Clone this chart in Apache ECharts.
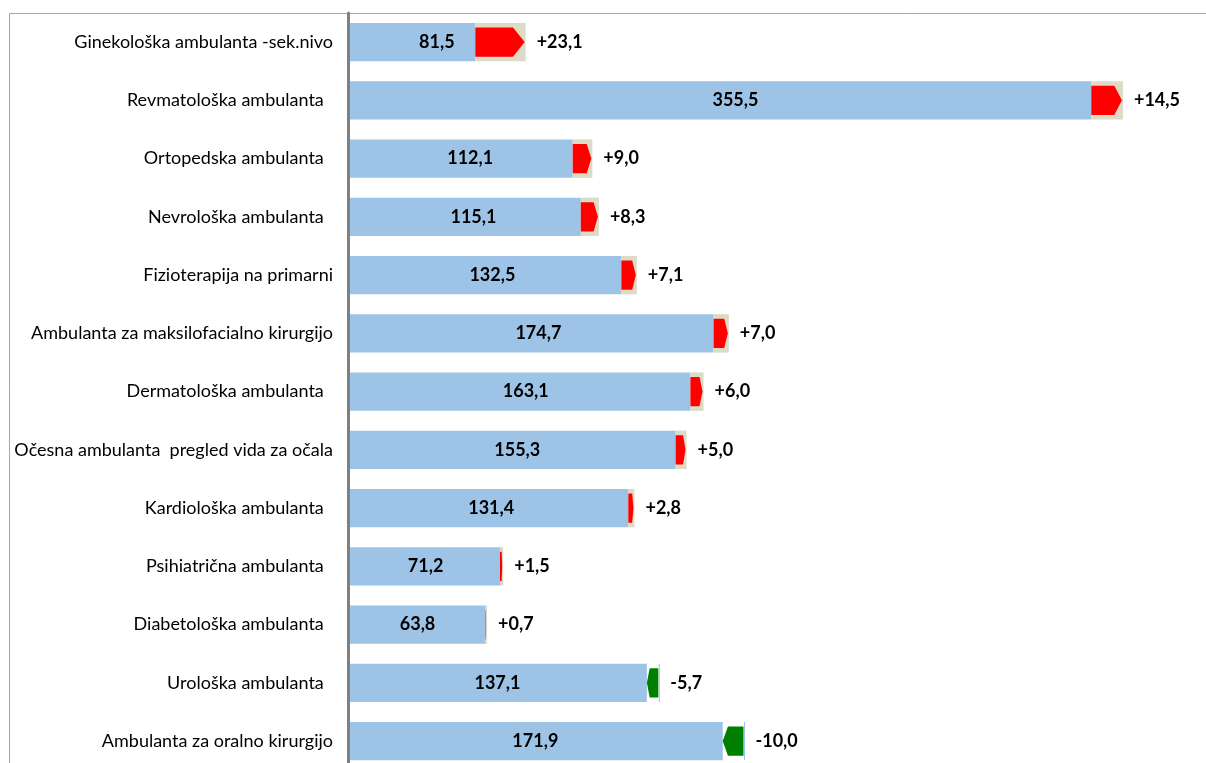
<!DOCTYPE html>
<html>
<head>
<meta charset="utf-8">
<script src="https://cdn.jsdelivr.net/npm/echarts@6/dist/echarts.min.js"></script>
<style>
html,body{margin:0;padding:0;background:#fff;}
#chart{width:1206px;height:763px;}
</style>
</head>
<body>
<div id="chart"></div>
<script>
const categories = [
  "Ginekološka ambulanta -sek.nivo",
  "Revmatološka ambulanta  ",
  "Ortopedska ambulanta  ",
  "Nevrološka ambulanta  ",
  "Fizioterapija na primarni",
  "Ambulanta za maksilofacialno kirurgijo",
  "Dermatološka ambulanta  ",
  "Očesna ambulanta  pregled vida za očala",
  "Kardiološka ambulanta  ",
  "Psihiatrična ambulanta  ",
  "Diabetološka ambulanta  ",
  "Urološka ambulanta  ",
  "Ambulanta za oralno kirurgijo"
];
const currentValues = [81.5, 355.5, 112.1, 115.1, 132.5, 174.7, 163.1, 155.3, 131.4, 71.2, 63.8, 137.1, 171.9];
const changeValues = [23.1, 14.5, 9.0, 8.3, 7.1, 7.0, 6.0, 5.0, 2.8, 1.5, 0.7, -5.7, -10.0];

const FONT = "Lato, 'Open Sans', sans-serif";
const fmt = v => v.toFixed(1).replace('.', ',');
const fmtDelta = v => (v >= 0 ? '+' : '') + v.toFixed(1).replace('.', ',');

const rowIndex = categories.map((c, i) => i);
const data = categories.map((c, i) => [i, currentValues[i], changeValues[i]]);

function renderItem(params, api) {
  const cat = api.value(0);
  const cur = api.value(1);
  const ch = api.value(2);
  const prev = cur - ch;
  const bandH = Math.abs(api.size([0, 1])[1]);
  const barH = bandH * 0.66;
  const p0 = api.coord([0, cat]);
  const pc = api.coord([cur, cat]);
  const pp = api.coord([prev, cat]);
  const yc = p0[1];
  const top = yc - barH / 2;
  const x0 = p0[0] + 1.5;
  const children = [];
  const blueEnd = Math.min(pc[0], pp[0]);
  children.push({
    type: 'rect',
    shape: { x: x0, y: top, width: blueEnd - x0, height: barH },
    style: { fill: '#9DC3E6' }
  });
  const inset = barH * 0.12;
  const ah = barH - 2 * inset;
  if (ch > 0) {
    const xa = pp[0], xb = pc[0];
    children.push({
      type: 'rect',
      shape: { x: xa, y: top, width: xb - xa, height: barH },
      style: { fill: '#DDDAC6' }
    });
    const w = xb - 1 - xa;
    const tip = Math.min(w * 0.25, ah * 0.4);
    children.push({
      type: 'polygon',
      shape: { points: [
        [xa, top + inset], [xb - 1 - tip, top + inset], [xb - 1, yc],
        [xb - 1 - tip, top + inset + ah], [xa, top + inset + ah]
      ] },
      style: { fill: '#FF0000' }
    });
  } else if (ch < 0) {
    const xa = pc[0], xb = pp[0];
    children.push({
      type: 'rect',
      shape: { x: xb - 0.5, y: top, width: 1, height: barH },
      style: { fill: '#9DC3E6' }
    });
    const w = xb - 1 - xa;
    const tip = Math.min(w * 0.25, ah * 0.4);
    children.push({
      type: 'polygon',
      shape: { points: [
        [xa, yc], [xa + tip, top + inset], [xb - 1, top + inset],
        [xb - 1, top + inset + ah], [xa + tip, top + inset + ah]
      ] },
      style: { fill: '#008000' }
    });
  }
  children.push({
    type: 'text',
    style: {
      x: (p0[0] + pc[0]) / 2, y: yc,
      text: fmt(cur), align: 'center', verticalAlign: 'middle',
      font: 'bold 18px ' + FONT, fill: '#000'
    }
  });
  children.push({
    type: 'text',
    style: {
      x: Math.max(pc[0], pp[0]) + 11, y: yc,
      text: fmtDelta(ch), align: 'left', verticalAlign: 'middle',
      font: 'bold 18px ' + FONT, fill: '#000'
    }
  });
  return { type: 'group', children };
}

const chart = echarts.init(document.getElementById('chart'), null, { renderer: 'canvas' });
chart.setOption({
  animation: false,
  backgroundColor: '#fff',
  graphic: [{
    type: 'rect', z: 0, silent: true,
    shape: { x: 9.5, y: 13.5, width: 1400, height: 900 },
    style: { fill: 'none', stroke: '#A6A6A6', lineWidth: 1 }
  }],
  grid: { left: 348, top: 13, right: 0, bottom: 0, containLabel: false },
  xAxis: {
    type: 'value', min: 0, max: 393.6, show: false
  },
  yAxis: {
    type: 'value', inverse: true, min: -0.5, max: 12.376,
    axisLine: { show: true, lineStyle: { color: '#808080', width: 3 } },
    axisTick: { show: false },
    splitLine: { show: false },
    axisLabel: {
      customValues: rowIndex,
      formatter: v => categories[Math.round(v)] || '',
      margin: 15, color: '#000', fontFamily: FONT, fontSize: 18, align: 'right'
    },
    z: 5
  },
  series: [{
    type: 'custom',
    renderItem: renderItem,
    encode: { x: 1, y: 0 },
    data: data,
    z: 2
  }]
});
</script>
</body>
</html>
